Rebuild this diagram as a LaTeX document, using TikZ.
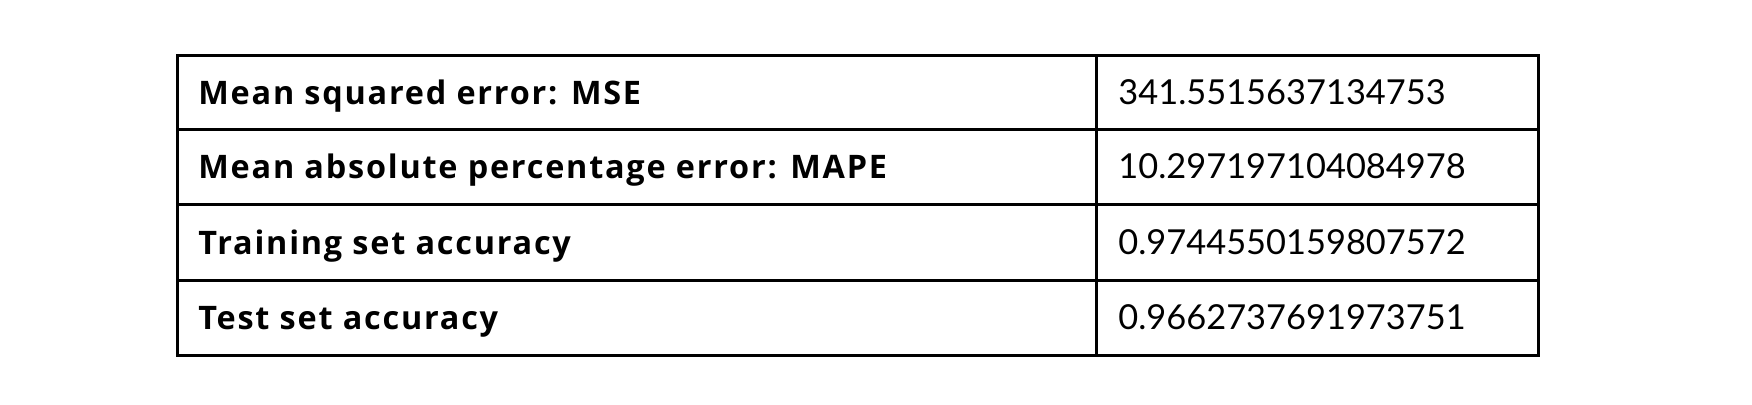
\documentclass[tikz,border=0pt]{standalone}
\usepackage{fontspec}
\setmainfont{Lato}
\newfontfamily\lblfont[LetterSpace=5.5]{Open Sans}
\begin{document}
\begin{tikzpicture}[x=0.5pt,y=-0.5pt,
  lbl/.style={anchor=base west,inner sep=0pt,font=\lblfont\fontsize{16.2}{18}\selectfont\bfseries},
  val/.style={anchor=base west,inner sep=0pt,font=\fontsize{17.2}{19}\selectfont},
  grid/.style={line width=1.5pt,black}]
\useasboundingbox (0,0) rectangle (1752,404);
\draw[grid] (177,55) rectangle (1538,355);
\foreach \y in {129,204,280} \draw[grid] (177,\y) -- (1538,\y);
\draw[grid] (1096,55) -- (1096,355);
\node[lbl] (l1) at (198,104) {Mean squared error: MSE};
\node[lbl] (l2) at (198,178) {Mean absolute percentage error: MAPE};
\node[lbl] (l3) at (198,254) {Training set accuracy};
\node[lbl] (l4) at (198,329) {Test set accuracy};
\node[val] (v1) at (1118,104) {341.5515637134753};
\node[val] (v2) at (1118,178) {10.297197104084978};
\node[val] (v3) at (1118,254) {0.9744550159807572};
\node[val] (v4) at (1118,329) {0.9662737691973751};
\end{tikzpicture}
\end{document}
